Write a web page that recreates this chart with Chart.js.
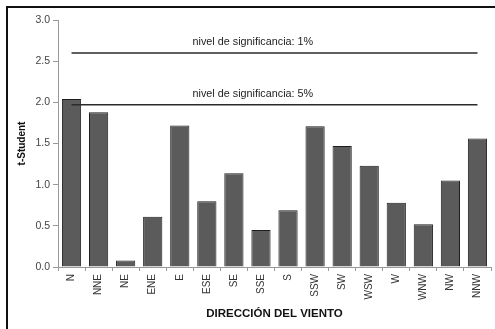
<!DOCTYPE html>
<html>
<head>
<meta charset="utf-8">
<script src="https://cdn.jsdelivr.net/npm/chart.js@4.4.1/dist/chart.umd.min.js"></script>
<style>
  html, body { margin: 0; padding: 0; background: #fff; }
  #wrap { position: relative; width: 495px; height: 329px; }
  #frame {
    position: absolute; left: 6px; top: 6px; right: 0; bottom: 0;
    border-left: 2px solid #111; border-top: 2px solid #111;
    pointer-events: none;
  }
</style>
</head>
<body>
<div id="wrap">
  <canvas id="windChart" width="495" height="329"></canvas>
  <div id="frame"></div>
</div>
<script>
// wind direction sectors
const directions = ["N", "NNE", "NE", "ENE", "E", "ESE", "SE", "SSE", "S",
                    "SSW", "SW", "WSW", "W", "WNW", "NW", "NNW"];

// t-Student value per sector
const tValues = [2.04, 1.88, 0.08, 0.61, 1.72, 0.80, 1.14, 0.45, 0.69,
                 1.71, 1.47, 1.23, 0.78, 0.52, 1.05, 1.56];

// critical values for the two significance levels
const crit1 = 2.60;
const crit5 = 1.97;
const critLabels = ["nivel de significancia: 1%", "nivel de significancia: 5%"];

const yTicks = [0, 0.5, 1.0, 1.5, 2.0, 2.5, 3.0];

const FONT = "'Liberation Sans', Arial, sans-serif";

// writes the significance captions just above each horizontal line
const lineCaptions = {
    id: "lineCaptions",
    afterDatasetsDraw(chart) {
        const ctx = chart.ctx;
        const x = chart.scales.x;
        const y = chart.scales.y;
        const cx = x.getPixelForValue(6.7);
        ctx.save();
        ctx.font = "10.8px " + FONT;
        ctx.fillStyle = "#222";
        ctx.textAlign = "center";
        ctx.textBaseline = "alphabetic";
        ctx.fillText(critLabels[0], cx, y.getPixelForValue(crit1) - 8);
        ctx.fillText(critLabels[1], cx, y.getPixelForValue(crit5) - 8);
        ctx.restore();
    }
};

new Chart(document.getElementById("windChart"), {
    type: "bar",
    data: {
        labels: directions,
        datasets: [
            {
                type: "line",
                data: directions.map(() => crit1),
                borderColor: "#2a2a2a",
                borderWidth: 1.6,
                pointRadius: 0
            },
            {
                type: "line",
                data: directions.map(() => crit5),
                borderColor: "#2a2a2a",
                borderWidth: 1.6,
                pointRadius: 0
            },
            {
                data: tValues,
                backgroundColor: "#5b5b5b",
                borderColor: "#1e1e1e",
                borderWidth: 1,
                categoryPercentage: 1,
                barPercentage: 0.71
            }
        ]
    },
    options: {
        responsive: false,
        animation: false,
        layout: { padding: { top: 20, right: 4, left: 0, bottom: 0 } },
        plugins: {
            legend: { display: false },
            tooltip: { enabled: false }
        },
        scales: {
            x: {
                grid: { drawOnChartArea: false, tickLength: 4, color: "#999" },
                border: { color: "#999" },
                ticks: {
                    minRotation: 90, maxRotation: 90,
                    padding: 3,
                    color: "#333",
                    font: { family: FONT, size: 10 }
                },
                title: {
                    display: true,
                    text: "DIRECCIÓN DEL VIENTO",
                    color: "#111",
                    font: { family: FONT, size: 11.5, weight: "bold" },
                    padding: { top: 0, bottom: 8 }
                },
                afterFit(scale) { scale.height = 62; }
            },
            y: {
                min: 0, max: 3,
                afterBuildTicks(scale) { scale.ticks = yTicks.map(v => ({ value: v })); },
                grid: { drawOnChartArea: false, tickLength: 5, color: "#999" },
                border: { color: "#999" },
                ticks: {
                    padding: 3,
                    color: "#444",
                    font: { family: FONT, size: 10.5 },
                    callback: v => v.toFixed(1)
                },
                title: {
                    display: true,
                    text: "t-Student",
                    color: "#111",
                    font: { family: FONT, size: 10, weight: "bold" },
                    padding: { top: 16, bottom: 0 }
                },
                afterFit(scale) { scale.width = 58; }
            }
        }
    },
    plugins: [lineCaptions]
});
</script>
</body>
</html>
